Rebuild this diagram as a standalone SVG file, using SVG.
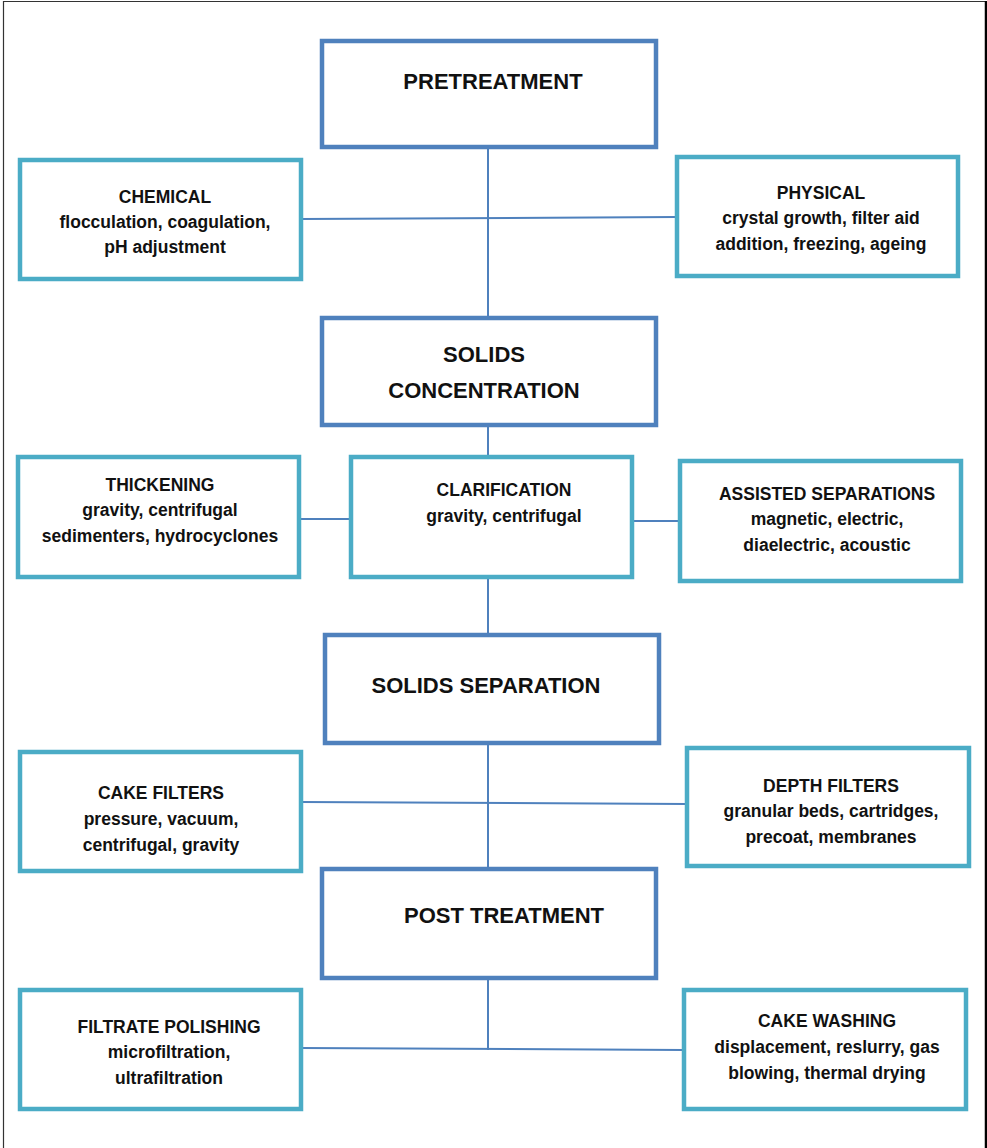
<svg xmlns="http://www.w3.org/2000/svg" width="987" height="1148" viewBox="0 0 987 1148">
<style>
.main{fill:#fff;stroke:#4F81BD;stroke-width:4.5}
.side{fill:#fff;stroke:#4BACC6;stroke-width:4.5}
.conn{stroke:#4F81BD;stroke-width:2;fill:none}
text{font-family:"Liberation Sans",Arial,sans-serif;font-weight:bold;fill:#111;text-anchor:middle}
.mt{font-size:22px}
.st{font-size:17.5px}
</style>
<rect width="987" height="1148" fill="#fff"/>
<path d="M3.5,1148 V1.5 H985" fill="none" stroke="#333" stroke-width="1.2"/>
<path d="M986,1 V1148" fill="none" stroke="#000" stroke-width="2.5"/>
<g id="connectors">
<path class="conn" d="M488,147 V318"/>
<path class="conn" d="M301,219 L677,217"/>
<path class="conn" d="M488,425 V457"/>
<path class="conn" d="M299,519 H351"/>
<path class="conn" d="M632,521 H680"/>
<path class="conn" d="M488,577 V635"/>
<path class="conn" d="M488,743 V869"/>
<path class="conn" d="M301,802 L687,804"/>
<path class="conn" d="M488,978 V1050"/>
<path class="conn" d="M301,1048 L684,1050"/>
</g>
<g id="pretreatment">
<rect class="main" x="322" y="41" width="334" height="106"/>
<text class="mt" x="493" y="89">PRETREATMENT</text>
</g>
<g id="chemical">
<rect class="side" x="20" y="160" width="281" height="119"/>
<text class="st" x="165" y="203">CHEMICAL</text>
<text class="st" x="165" y="228">flocculation, coagulation,</text>
<text class="st" x="165" y="253">pH adjustment</text>
</g>
<g id="physical">
<rect class="side" x="677" y="157" width="281" height="119"/>
<text class="st" x="821" y="199">PHYSICAL</text>
<text class="st" x="821" y="224">crystal growth, filter aid</text>
<text class="st" x="821" y="250">addition, freezing, ageing</text>
</g>
<g id="solids-concentration">
<rect class="main" x="322" y="318" width="334" height="107"/>
<text class="mt" x="484" y="362">SOLIDS</text>
<text class="mt" x="484" y="398">CONCENTRATION</text>
</g>
<g id="thickening">
<rect class="side" x="18" y="457" width="281" height="120"/>
<text class="st" x="160" y="491">THICKENING</text>
<text class="st" x="160" y="516">gravity, centrifugal</text>
<text class="st" x="160" y="542">sedimenters, hydrocyclones</text>
</g>
<g id="clarification">
<rect class="side" x="351" y="457" width="281" height="120"/>
<text class="st" x="504" y="496">CLARIFICATION</text>
<text class="st" x="504" y="522">gravity, centrifugal</text>
</g>
<g id="assisted-separations">
<rect class="side" x="680" y="461" width="281" height="120"/>
<text class="st" x="827" y="500">ASSISTED SEPARATIONS</text>
<text class="st" x="827" y="525">magnetic, electric,</text>
<text class="st" x="827" y="551">diaelectric, acoustic</text>
</g>
<g id="solids-separation">
<rect class="main" x="325" y="635" width="334" height="108"/>
<text class="mt" x="486" y="693">SOLIDS SEPARATION</text>
</g>
<g id="cake-filters">
<rect class="side" x="20" y="752" width="281" height="119"/>
<text class="st" x="161" y="799">CAKE FILTERS</text>
<text class="st" x="161" y="825">pressure, vacuum,</text>
<text class="st" x="161" y="851">centrifugal, gravity</text>
</g>
<g id="depth-filters">
<rect class="side" x="687" y="748" width="282" height="118"/>
<text class="st" x="831" y="792">DEPTH FILTERS</text>
<text class="st" x="831" y="817">granular beds, cartridges,</text>
<text class="st" x="831" y="843">precoat, membranes</text>
</g>
<g id="post-treatment">
<rect class="main" x="322" y="869" width="334" height="109"/>
<text class="mt" x="504" y="923">POST TREATMENT</text>
</g>
<g id="filtrate-polishing">
<rect class="side" x="20" y="990" width="281" height="119"/>
<text class="st" x="169" y="1033">FILTRATE POLISHING</text>
<text class="st" x="169" y="1058">microfiltration,</text>
<text class="st" x="169" y="1084">ultrafiltration</text>
</g>
<g id="cake-washing">
<rect class="side" x="684" y="990" width="282" height="119"/>
<text class="st" x="827" y="1027">CAKE WASHING</text>
<text class="st" x="827" y="1053">displacement, reslurry, gas</text>
<text class="st" x="827" y="1079">blowing, thermal drying</text>
</g>
</svg>
